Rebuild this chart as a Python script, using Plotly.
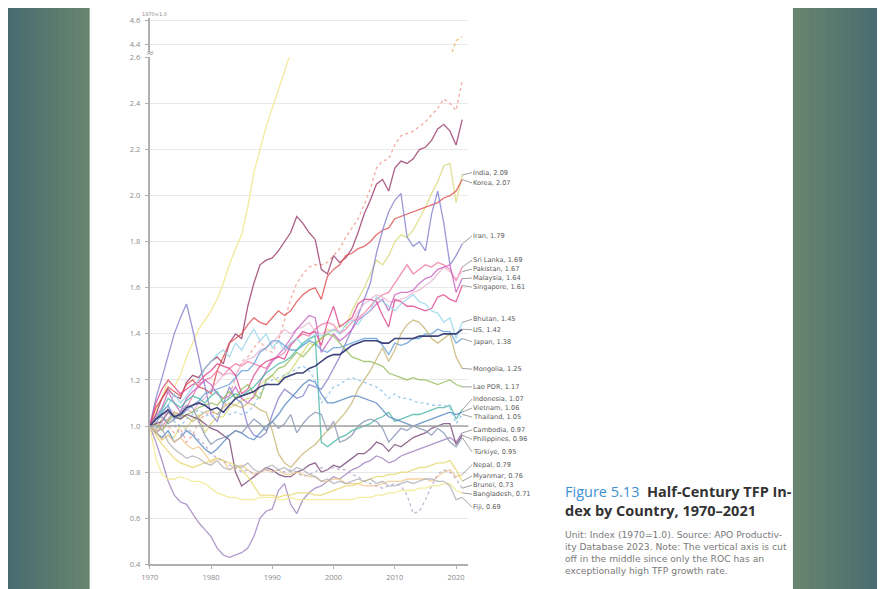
import plotly.graph_objects as go

# ---------------- data ----------------
years = list(range(1970, 2022))

roc = [1.00, 1.07, 1.12, 1.20, 1.17, 1.22, 1.30, 1.36, 1.42, 1.46,
       1.50, 1.55, 1.62, 1.70, 1.77, 1.83, 1.95, 2.10, 2.20, 2.30,
       2.38, 2.46, 2.54, 2.62, 2.70, 2.82, 2.92, 3.02, 3.08, 3.18,
       3.27, 3.30, 3.39, 3.47, 3.56, 3.61, 3.69, 3.77, 3.79, 3.82,
       3.94, 3.99, 4.01, 4.05, 4.11, 4.14, 4.18, 4.22, 4.25, 4.28,
       4.43, 4.46]
china = [1.00, 1.02, 0.99, 1.00, 0.97, 0.99, 0.93, 0.96, 1.02, 1.05,
         1.06, 1.05, 1.08, 1.13, 1.21, 1.28, 1.30, 1.34, 1.37, 1.33,
         1.32, 1.37, 1.46, 1.55, 1.62, 1.66, 1.69, 1.70, 1.70, 1.71,
         1.74, 1.77, 1.82, 1.86, 1.90, 1.96, 2.03, 2.12, 2.15, 2.16,
         2.22, 2.26, 2.27, 2.28, 2.30, 2.32, 2.35, 2.38, 2.42, 2.40,
         2.37, 2.50]
hong_kong = [1.00, 1.05, 1.12, 1.16, 1.13, 1.12, 1.19, 1.22, 1.21, 1.25,
             1.28, 1.30, 1.27, 1.36, 1.40, 1.38, 1.52, 1.62, 1.70, 1.72,
             1.73, 1.76, 1.80, 1.84, 1.91, 1.88, 1.84, 1.81, 1.68, 1.66,
             1.74, 1.71, 1.73, 1.77, 1.84, 1.92, 1.98, 2.05, 2.07, 2.02,
             2.12, 2.15, 2.14, 2.16, 2.20, 2.21, 2.24, 2.29, 2.31, 2.28,
             2.22, 2.33]
india = [1.00, 0.98, 0.94, 0.96, 0.95, 1.00, 0.99, 1.03, 1.05, 0.97,
         1.01, 1.04, 1.04, 1.08, 1.09, 1.11, 1.12, 1.12, 1.18, 1.20,
         1.22, 1.19, 1.22, 1.24, 1.28, 1.32, 1.36, 1.35, 1.38, 1.42,
         1.41, 1.44, 1.43, 1.50, 1.55, 1.60, 1.66, 1.72, 1.70, 1.74,
         1.80, 1.83, 1.82, 1.85, 1.90, 1.95, 2.01, 2.06, 2.13, 2.14,
         1.97, 2.09]
korea = [1.00, 1.08, 1.12, 1.17, 1.15, 1.13, 1.18, 1.20, 1.17, 1.16,
         1.14, 1.24, 1.30, 1.36, 1.38, 1.40, 1.44, 1.47, 1.45, 1.44,
         1.47, 1.50, 1.48, 1.50, 1.54, 1.57, 1.59, 1.60, 1.55, 1.65,
         1.68, 1.70, 1.74, 1.75, 1.77, 1.78, 1.80, 1.83, 1.85, 1.86,
         1.90, 1.91, 1.92, 1.93, 1.94, 1.95, 1.96, 1.97, 1.99, 2.00,
         2.02, 2.07]
iran = [1.00, 1.12, 1.21, 1.30, 1.40, 1.47, 1.53, 1.42, 1.30, 1.18,
        1.05, 1.02, 1.10, 1.17, 1.12, 1.10, 1.00, 0.96, 0.95, 0.97,
        1.05, 1.12, 1.16, 1.14, 1.12, 1.13, 1.18, 1.17, 1.16, 1.20,
        1.25, 1.30, 1.36, 1.42, 1.48, 1.55, 1.62, 1.75, 1.85, 1.93,
        1.98, 2.01, 1.82, 1.78, 1.80, 1.76, 1.92, 2.02, 1.88, 1.70,
        1.74, 1.79]
sri_lanka = [1.00, 0.97, 1.00, 1.03, 1.06, 1.05, 1.08, 1.13, 1.18, 1.20,
             1.21, 1.24, 1.22, 1.25, 1.27, 1.26, 1.28, 1.27, 1.26, 1.25,
             1.29, 1.30, 1.32, 1.36, 1.38, 1.40, 1.39, 1.42, 1.44, 1.45,
             1.44, 1.40, 1.42, 1.45, 1.47, 1.49, 1.52, 1.55, 1.57, 1.58,
             1.62, 1.66, 1.70, 1.66, 1.68, 1.70, 1.69, 1.71, 1.70, 1.68,
             1.63, 1.69]
pakistan = [1.00, 0.99, 1.02, 1.08, 1.06, 1.04, 1.07, 1.06, 1.10, 1.12,
            1.16, 1.19, 1.22, 1.23, 1.22, 1.27, 1.29, 1.30, 1.33, 1.34,
            1.36, 1.39, 1.42, 1.40, 1.42, 1.43, 1.45, 1.41, 1.40, 1.41,
            1.42, 1.41, 1.42, 1.45, 1.50, 1.53, 1.55, 1.57, 1.56, 1.54,
            1.54, 1.55, 1.56, 1.58, 1.59, 1.61, 1.63, 1.66, 1.69, 1.67,
            1.64, 1.67]
malaysia = [1.00, 1.04, 1.08, 1.15, 1.10, 1.06, 1.12, 1.15, 1.17, 1.20,
            1.18, 1.14, 1.12, 1.13, 1.17, 1.12, 1.10, 1.13, 1.19, 1.24,
            1.28, 1.31, 1.34, 1.38, 1.42, 1.45, 1.48, 1.47, 1.32, 1.36,
            1.40, 1.37, 1.39, 1.42, 1.46, 1.48, 1.50, 1.53, 1.55, 1.50,
            1.57, 1.58, 1.58, 1.59, 1.62, 1.64, 1.65, 1.68, 1.69, 1.70,
            1.58, 1.64]
singapore = [1.00, 1.10, 1.16, 1.20, 1.17, 1.14, 1.16, 1.18, 1.19, 1.22,
             1.24, 1.27, 1.26, 1.25, 1.22, 1.14, 1.16, 1.22, 1.26, 1.28,
             1.29, 1.30, 1.29, 1.35, 1.38, 1.41, 1.40, 1.41, 1.35, 1.45,
             1.52, 1.43, 1.45, 1.47, 1.53, 1.55, 1.55, 1.54, 1.48, 1.43,
             1.55, 1.54, 1.52, 1.52, 1.51, 1.50, 1.51, 1.56, 1.57, 1.55,
             1.54, 1.61]
bhutan = [1.00, 1.03, 1.06, 1.09, 1.14, 1.10, 1.13, 1.17, 1.20, 1.25,
          1.28, 1.31, 1.33, 1.30, 1.36, 1.33, 1.38, 1.42, 1.37, 1.40,
          1.34, 1.37, 1.33, 1.36, 1.38, 1.35, 1.37, 1.40, 1.39, 1.40,
          1.42, 1.40, 1.44, 1.46, 1.44, 1.48, 1.50, 1.56, 1.54, 1.52,
          1.50, 1.53, 1.55, 1.57, 1.54, 1.53, 1.50, 1.49, 1.45, 1.47,
          1.38, 1.45]
us = [1.00, 1.03, 1.05, 1.07, 1.04, 1.05, 1.08, 1.09, 1.10, 1.09,
      1.07, 1.08, 1.06, 1.09, 1.12, 1.13, 1.14, 1.15, 1.17, 1.18,
      1.18, 1.18, 1.21, 1.22, 1.23, 1.23, 1.25, 1.26, 1.28, 1.30,
      1.31, 1.31, 1.33, 1.35, 1.36, 1.37, 1.37, 1.37, 1.36, 1.36,
      1.38, 1.38, 1.38, 1.38, 1.39, 1.39, 1.39, 1.39, 1.40, 1.40,
      1.40, 1.42]
japan = [1.00, 1.01, 1.06, 1.09, 1.03, 1.04, 1.07, 1.09, 1.11, 1.14,
         1.15, 1.16, 1.17, 1.18, 1.21, 1.24, 1.24, 1.27, 1.32, 1.34,
         1.37, 1.37, 1.35, 1.33, 1.33, 1.35, 1.37, 1.36, 1.33, 1.32,
         1.34, 1.34, 1.35, 1.36, 1.37, 1.38, 1.38, 1.38, 1.35, 1.31,
         1.36, 1.35, 1.36, 1.38, 1.38, 1.40, 1.40, 1.42, 1.41, 1.41,
         1.36, 1.38]
mongolia = [1.00, 0.98, 1.03, 1.02, 1.06, 1.05, 1.04, 1.02, 1.04, 1.06,
            1.07, 1.05, 1.08, 1.10, 1.09, 1.08, 1.10, 1.09, 1.07, 1.06,
            0.98, 0.88, 0.84, 0.82, 0.85, 0.88, 0.90, 0.92, 0.95, 0.98,
            1.00, 1.03, 1.06, 1.10, 1.16, 1.20, 1.24, 1.29, 1.34, 1.28,
            1.33, 1.40, 1.44, 1.46, 1.45, 1.42, 1.38, 1.36, 1.38, 1.40,
            1.30, 1.25]
lao_pdr = [1.00, 1.01, 0.98, 1.02, 1.05, 1.03, 1.05, 1.06, 1.08, 1.09,
           1.10, 1.09, 1.12, 1.15, 1.12, 1.16, 1.18, 1.14, 1.12, 1.20,
           1.22, 1.25, 1.26, 1.29, 1.32, 1.30, 1.33, 1.36, 1.38, 1.40,
           1.39, 1.36, 1.33, 1.30, 1.29, 1.28, 1.28, 1.27, 1.26, 1.23,
           1.22, 1.21, 1.20, 1.21, 1.20, 1.20, 1.19, 1.18, 1.19, 1.20,
           1.18, 1.17]
indonesia = [1.00, 1.03, 1.07, 1.12, 1.10, 1.08, 1.11, 1.13, 1.12, 1.10,
             1.13, 1.15, 1.10, 1.12, 1.14, 1.13, 1.15, 1.17, 1.20, 1.23,
             1.25, 1.27, 1.28, 1.30, 1.33, 1.36, 1.38, 1.39, 0.93, 0.91,
             0.93, 0.95, 0.96, 0.98, 0.99, 1.00, 1.01, 1.03, 1.04, 1.06,
             1.02, 1.03, 1.04, 1.05, 1.05, 1.06, 1.07, 1.08, 1.08, 1.09,
             1.03, 1.07]
vietnam = [1.00, 0.97, 0.95, 0.98, 0.93, 0.95, 0.98, 0.96, 0.93, 0.90,
           0.88, 0.90, 0.93, 0.96, 0.98, 0.97, 0.95, 0.94, 0.97, 1.00,
           1.02, 1.05, 1.09, 1.12, 1.15, 1.18, 1.20, 1.19, 1.14, 1.10,
           1.10, 1.11, 1.12, 1.13, 1.13, 1.12, 1.11, 1.10, 1.07, 1.04,
           1.03, 1.02, 1.01, 1.00, 1.01, 1.02, 1.03, 1.04, 1.05, 1.06,
           1.05, 1.06]
thailand = [1.00, 0.99, 1.01, 1.04, 1.02, 1.00, 1.03, 1.05, 1.07, 1.05,
            1.04, 1.05, 1.06, 1.05, 1.06, 1.05, 1.06, 1.09, 1.14, 1.18,
            1.20, 1.21, 1.22, 1.23, 1.25, 1.26, 1.24, 1.20, 1.10, 1.13,
            1.17, 1.18, 1.20, 1.21, 1.20, 1.19, 1.18, 1.17, 1.15, 1.12,
            1.14, 1.12, 1.12, 1.11, 1.10, 1.10, 1.09, 1.09, 1.09, 1.08,
            1.01, 1.05]
cambodia = [1.00, 0.93, 0.85, 0.76, 0.70, 0.67, 0.66, 0.62, 0.58, 0.55,
            0.52, 0.47, 0.44, 0.43, 0.44, 0.45, 0.47, 0.52, 0.60, 0.63,
            0.64, 0.72, 0.75, 0.66, 0.62, 0.68, 0.71, 0.73, 0.74, 0.76,
            0.78, 0.77, 0.79, 0.81, 0.82, 0.84, 0.85, 0.87, 0.86, 0.84,
            0.85, 0.87, 0.88, 0.89, 0.90, 0.91, 0.92, 0.93, 0.94, 0.95,
            0.93, 0.97]
philippines = [1.00, 1.01, 1.02, 1.06, 1.04, 1.03, 1.05, 1.04, 1.03, 1.01,
               0.99, 0.98, 0.96, 0.94, 0.80, 0.74, 0.76, 0.78, 0.80, 0.82,
               0.81, 0.79, 0.78, 0.78, 0.80, 0.81, 0.83, 0.84, 0.80, 0.81,
               0.83, 0.82, 0.84, 0.86, 0.88, 0.88, 0.90, 0.93, 0.92, 0.89,
               0.92, 0.91, 0.93, 0.95, 0.96, 0.97, 0.99, 1.00, 1.01, 1.01,
               0.92, 0.96]
turkiye = [1.00, 1.03, 1.04, 1.01, 1.03, 1.06, 1.09, 1.08, 1.02, 0.96,
           0.92, 0.94, 0.95, 0.96, 0.98, 0.97, 1.00, 1.03, 1.01, 0.98,
           1.02, 0.99, 1.01, 1.05, 0.97, 1.01, 1.04, 1.06, 1.05, 0.98,
           1.02, 0.93, 0.94, 0.96, 1.00, 1.02, 1.03, 1.02, 0.99, 0.93,
           0.96, 0.99, 0.98, 1.00, 0.99, 0.98, 0.96, 0.99, 0.97, 0.93,
           0.91, 0.95]
nepal = [1.00, 0.97, 0.94, 0.96, 0.93, 0.95, 0.92, 0.90, 0.91, 0.88,
         0.84, 0.86, 0.85, 0.81, 0.82, 0.83, 0.81, 0.79, 0.80, 0.81,
         0.80, 0.81, 0.79, 0.79, 0.80, 0.79, 0.78, 0.78, 0.76, 0.76,
         0.77, 0.77, 0.75, 0.75, 0.75, 0.74, 0.74, 0.74, 0.75, 0.76,
         0.76, 0.76, 0.77, 0.77, 0.77, 0.77, 0.76, 0.78, 0.80, 0.81,
         0.78, 0.79]
myanmar = [1.00, 0.96, 0.92, 0.89, 0.86, 0.84, 0.83, 0.82, 0.83, 0.84,
           0.85, 0.86, 0.85, 0.84, 0.83, 0.81, 0.78, 0.74, 0.70, 0.70,
           0.70, 0.69, 0.70, 0.70, 0.71, 0.71, 0.71, 0.70, 0.70, 0.71,
           0.72, 0.73, 0.74, 0.74, 0.75, 0.76, 0.77, 0.78, 0.78, 0.79,
           0.79, 0.80, 0.80, 0.81, 0.82, 0.82, 0.83, 0.84, 0.84, 0.85,
           0.81, 0.76]
brunei = [1.00, 1.04, 1.02, 1.07, 1.01, 0.96, 0.99, 0.97, 0.94, 0.92,
          0.88, 0.86, 0.85, 0.83, 0.82, 0.80, 0.81, 0.79, 0.80, 0.81,
          0.80, 0.81, 0.80, 0.81, 0.80, 0.78, 0.79, 0.80, 0.82, 0.81,
          0.82, 0.81, 0.81, 0.79, 0.78, 0.76, 0.75, 0.74, 0.73, 0.74,
          0.75, 0.74, 0.70, 0.62, 0.63, 0.68, 0.74, 0.79, 0.81, 0.80,
          0.77, 0.73]
bangladesh = [1.00, 0.86, 0.79, 0.77, 0.77, 0.78, 0.77, 0.76, 0.76, 0.75,
              0.73, 0.71, 0.70, 0.69, 0.69, 0.68, 0.68, 0.68, 0.69, 0.69,
              0.69, 0.68, 0.68, 0.69, 0.68, 0.68, 0.68, 0.68, 0.68, 0.68,
              0.68, 0.68, 0.68, 0.68, 0.69, 0.69, 0.69, 0.70, 0.70, 0.71,
              0.71, 0.72, 0.72, 0.72, 0.73, 0.73, 0.74, 0.74, 0.75, 0.75,
              0.72, 0.71]
fiji = [1.00, 0.97, 0.99, 0.93, 0.90, 0.88, 0.86, 0.87, 0.86, 0.84,
        0.83, 0.85, 0.82, 0.81, 0.83, 0.82, 0.84, 0.81, 0.80, 0.82,
        0.83, 0.81, 0.82, 0.80, 0.82, 0.81, 0.79, 0.78, 0.76, 0.77,
        0.75, 0.76, 0.75, 0.76, 0.77, 0.76, 0.77, 0.75, 0.76, 0.74,
        0.74, 0.75, 0.76, 0.75, 0.76, 0.77, 0.77, 0.76, 0.76, 0.74,
        0.68, 0.69]

x_ticks = [1970, 1980, 1990, 2000, 2010, 2020]
y_ticks_low = [0.4, 0.6, 0.8, 1.0, 1.2, 1.4, 1.6, 1.8, 2.0, 2.2, 2.4, 2.6]
y_ticks_top = [4.4, 4.6]

# ---------------- styling / layout ----------------
series = [
    ("China", china, "#f29a8e", "dot"),
    ("Hong Kong", hong_kong, "#9a3e6c", "solid"),
    ("India", india, "#dadc78", "solid"),
    ("Korea", korea, "#e25050", "solid"),
    ("Iran", iran, "#8482cf", "solid"),
    ("Sri Lanka", sri_lanka, "#f27aa6", "solid"),
    ("Pakistan", pakistan, "#ecb6d4", "solid"),
    ("Malaysia", malaysia, "#c963c4", "solid"),
    ("Singapore", singapore, "#e2478d", "solid"),
    ("Bhutan", bhutan, "#98d6ea", "solid"),
    ("Japan", japan, "#64a0da", "solid"),
    ("Mongolia", mongolia, "#c8b676", "solid"),
    ("Lao PDR", lao_pdr, "#98bd5c", "solid"),
    ("Indonesia", indonesia, "#4cb8a8", "solid"),
    ("Vietnam", vietnam, "#5588c4", "solid"),
    ("Thailand", thailand, "#88c2e6", "dot"),
    ("Cambodia", cambodia, "#a084c0", "solid"),
    ("Philippines", philippines, "#7c4a78", "solid"),
    ("Türkiye", turkiye, "#8898b4", "solid"),
    ("Nepal", nepal, "#f2c88c", "solid"),
    ("Myanmar", myanmar, "#e8d870", "solid"),
    ("Brunei", brunei, "#b6a8cc", "dot"),
    ("Bangladesh", bangladesh, "#f2ea8a", "solid"),
    ("Fiji", fiji, "#b0b0b8", "solid"),
    ("US", us, "#333a74", "solid"),
]

# label y-positions (data units) for the right-hand direct labels
label_pos = {
    "China": 2.50, "Hong Kong": 2.34, "India": 2.10, "Korea": 2.055,
    "Iran": 1.826, "Sri Lanka": 1.720, "Pakistan": 1.681, "Malaysia": 1.642,
    "Singapore": 1.603, "Bhutan": 1.463, "US": 1.418, "Japan": 1.366,
    "Mongolia": 1.247, "Lao PDR": 1.170, "Indonesia": 1.117, "Vietnam": 1.078,
    "Thailand": 1.039, "Cambodia": 0.983, "Philippines": 0.942, "Türkiye": 0.888,
    "Nepal": 0.832, "Myanmar": 0.783, "Brunei": 0.743, "Bangladesh": 0.704,
    "Fiji": 0.647,
}
no_leader = {"China", "Hong Kong"}
roc_label_pos = 4.46
label_x = 2022.6

W, H = 885, 589
# the photographed page is slightly offset/scaled; place layout items so they land at target pixels
S, OX, OY = 0.988, 15.5, 12.0


def fx(p):
    return ((p - OX) / S) / W


def fy(p):
    return 1 - ((p - OY) / S) / H


fig = go.Figure()

fig.add_trace(go.Scatter(x=years, y=roc, mode="lines", xaxis="x", yaxis="y",
                         line=dict(color="#f3e88e", width=1.3), opacity=0.9,
                         hoverinfo="skip", showlegend=False))
fig.add_trace(go.Scatter(x=years, y=roc, mode="lines", xaxis="x", yaxis="y2",
                         line=dict(color="#f0b46a", width=1.2, dash="dot"),
                         hoverinfo="skip", showlegend=False))
for name, vals, col, dash in series:
    fig.add_trace(go.Scatter(x=years, y=vals, mode="lines", xaxis="x", yaxis="y",
                             line=dict(color=col, width=1.6 if name == "US" else 1.3, dash=dash),
                             opacity=0.95 if name == "US" else 0.82,
                             hoverinfo="skip", showlegend=False))

shapes = []


def mix(c1, c2, t):
    a = [int(c1[i:i + 2], 16) for i in (1, 3, 5)]
    b = [int(c2[i:i + 2], 16) for i in (1, 3, 5)]
    return "#%02x%02x%02x" % tuple(round(a[k] + (b[k] - a[k]) * t) for k in range(3))


outer, inner = "#3e6570", "#67846f"
n = 14
left0, right1 = -20, 905
for i in range(n):
    t = i / (n - 1)
    x0 = left0 + (88 - left0) * i / n
    x1 = left0 + (88 - left0) * (i + 1) / n + 0.6
    shapes.append(dict(type="rect", xref="paper", yref="paper", x0=fx(x0), x1=fx(x1), y0=-0.1, y1=1.1,
                       fillcolor=mix(outer, inner, t), line=dict(width=0), layer="below"))
    x0r = 790 + (right1 - 790) * i / n
    x1r = 790 + (right1 - 790) * (i + 1) / n + 0.6
    shapes.append(dict(type="rect", xref="paper", yref="paper", x0=fx(x0r), x1=fx(x1r), y0=-0.1, y1=1.1,
                       fillcolor=mix(inner, outer, t), line=dict(width=0), layer="below"))
# white page
shapes.append(dict(type="rect", xref="paper", yref="paper", x0=fx(88), x1=fx(790), y0=-0.1, y1=1.1,
                   fillcolor="#ffffff", line=dict(width=0), layer="below"))
# reference line at 1.0
shapes.append(dict(type="line", xref="x domain", yref="y", x0=0, x1=1, y0=1.0, y1=1.0,
                   line=dict(color="#a2a2a2", width=1.5), layer="above"))

annotations = []
lab_font = dict(family="DejaVu Sans, sans-serif", size=6.6, color="#5a5a5a")
annotations.append(dict(xref="x", yref="y2", x=label_x, y=roc_label_pos, text="ROC, %.2f" % roc[-1],
                        showarrow=False, xanchor="left", yanchor="middle", font=lab_font))
for name, vals, col, dash in series:
    txt = "%s, %.2f" % (name, vals[-1])
    if name in no_leader:
        annotations.append(dict(xref="x", yref="y", x=label_x, y=label_pos[name], text=txt,
                                showarrow=False, xanchor="left", yanchor="middle", font=lab_font))
    else:
        annotations.append(dict(xref="x", yref="y", x=years[-1], y=vals[-1], text=txt,
                                axref="x", ayref="y", ax=label_x, ay=label_pos[name],
                                showarrow=True, arrowhead=0, arrowwidth=0.7, arrowcolor="#777777",
                                standoff=0, startstandoff=0, borderpad=0,
                                xanchor="left", yanchor="middle", font=lab_font))

annotations.append(dict(xref="paper", yref="paper", x=fx(139), y=fy(13.5), text="1970=1.0",
                        showarrow=False, xanchor="left", yanchor="middle", borderpad=0,
                        font=dict(family="DejaVu Sans, sans-serif", size=5, color="#8a8a8a")))
annotations.append(dict(xref="paper", yref="paper", x=fx(148), y=fy(52), text="≈",
                        showarrow=False, xanchor="center", yanchor="middle",
                        font=dict(family="DejaVu Sans", size=10, color="#9a9a9a")))

cap_font = "Open Sans, Noto Sans, sans-serif"
annotations.append(dict(xref="paper", yref="paper", x=fx(560), y=fy(502.5), xanchor="left", yanchor="middle",
                        showarrow=False, align="left",
                        text="<span style='color:#3a8fd2'>Figure 5.13</span>&nbsp; "
                             "<b>Half-Century TFP In-</b><br><b>dex by Country, 1970–2021</b>",
                        font=dict(family=cap_font, size=14.5, color="#333333")))
notes = ["Unit: Index (1970=1.0). Source: APO Productiv-",
         "ity Database 2023. Note: The vertical axis is cut",
         "off in the middle since only the ROC has an",
         "exceptionally high TFP growth rate."]
annotations.append(dict(xref="paper", yref="paper", x=fx(560), y=fy(554.6), xanchor="left", yanchor="middle",
                        showarrow=False, align="left", text="<br>".join(notes),
                        font=dict(family="DejaVu Sans, sans-serif", size=9.2, color="#7a7a7a")))

axis_common = dict(showline=True, linecolor="#b0b0b0", linewidth=1.8, ticks="outside", ticklen=3,
                   tickcolor="#b0b0b0", zeroline=False, fixedrange=True,
                   tickfont=dict(family="Open Sans, sans-serif", size=7.5, color="#8a8a8a"))

fig.update_layout(
    width=W, height=H, autosize=False,
    margin=dict(l=0, r=0, t=0, b=0),
    paper_bgcolor="#517570", plot_bgcolor="#ffffff",
    showlegend=False,
    shapes=shapes, annotations=annotations,
    xaxis=dict(domain=[fx(148), fx(466)], range=[1970, 2022], tickvals=x_ticks,
               ticktext=[str(v) for v in x_ticks], showgrid=False, anchor="y",
               ticklabelstandoff=2, **axis_common),
    yaxis=dict(domain=[fy(566), fy(56.7)], range=[0.4, 2.6], tickvals=y_ticks_low,
               ticktext=["%.1f" % v for v in y_ticks_low], showgrid=True, gridcolor="#e8e8e8",
               gridwidth=1, anchor="x", ticklabelstandoff=3, **axis_common),
    yaxis2=dict(domain=[fy(51.7), fy(16.9)], range=[4.33, 4.62], tickvals=y_ticks_top,
                ticktext=["%.1f" % v for v in y_ticks_top], showgrid=True, gridcolor="#e8e8e8",
                gridwidth=1, anchor="x", ticklabelstandoff=3, **axis_common),
)

fig.write_html("out.html")
